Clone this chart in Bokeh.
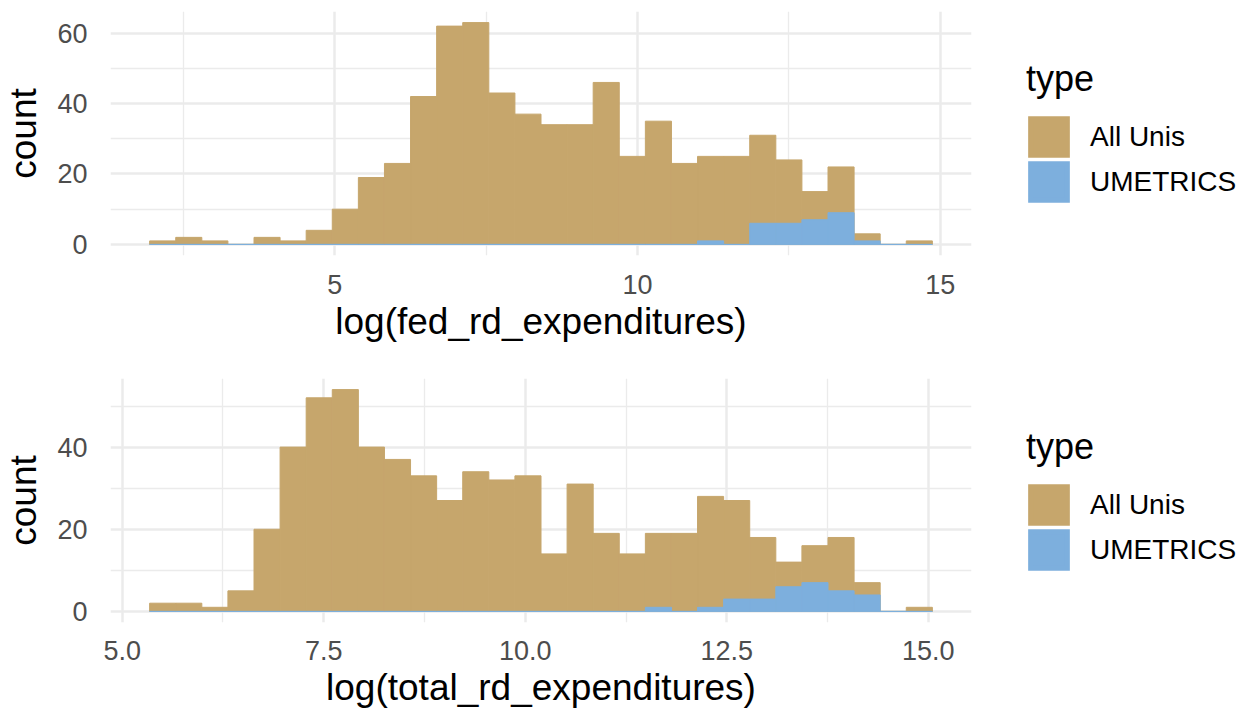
import numpy as np
from bokeh.plotting import figure
from bokeh.models import Range1d, FixedTicker, NumeralTickFormatter, BasicTickFormatter, Legend, LegendItem
from bokeh.layouts import column, row
from bokeh.embed import file_html
from bokeh.resources import INLINE

# ---- data (30 bins per panel) ----
types = ["All Unis", "UMETRICS"]

fed_edges_range = [1.94, 14.87]          # outer bin edges of log(fed_rd_expenditures)
fed_all_unis = [1, 2, 1, 0, 2, 1, 4, 10, 19, 23, 42, 62, 63, 43, 37,
                34, 34, 46, 25, 35, 23, 25, 25, 31, 24, 15, 22, 3, 0, 1]
fed_umetrics = [0, 0, 0, 0, 0, 0, 0, 0, 0, 0, 0, 0, 0, 0, 0,
                0, 0, 0, 0, 0, 0, 1, 0, 6, 6, 7, 9, 1, 0, 0]

total_edges_range = [5.34, 15.05]        # outer bin edges of log(total_rd_expenditures)
total_all_unis = [2, 2, 1, 5, 20, 40, 52, 54, 40, 37, 33, 27, 34, 32, 33,
                  14, 31, 19, 14, 19, 19, 28, 27, 18, 12, 16, 18, 7, 0, 1]
total_umetrics = [0, 0, 0, 0, 0, 0, 0, 0, 0, 0, 0, 0, 0, 0, 0,
                  0, 0, 0, 0, 1, 0, 1, 3, 3, 6, 7, 5, 4, 0, 0]

fed_xticks = [5, 10, 15]
fed_xminor = [2.5, 7.5, 12.5]
fed_yticks = [0, 20, 40, 60]
fed_yminor = [10, 30, 50]

total_xticks = [5.0, 7.5, 10.0, 12.5, 15.0]
total_xminor = [6.25, 8.75, 11.25, 13.75]
total_yticks = [0, 20, 40]
total_yminor = [10, 30, 50]

COLORS = ["#C6A66C", "#7DAFDD"]
FONT = "Liberation Sans"
GRID = "#EBEBEB"


def histogram(fig, edges, all_counts, um_counts, lw=1):
    r_all = fig.quad(left=edges[:-1], right=edges[1:], bottom=0, top=all_counts,
                     fill_color=COLORS[0], line_color=COLORS[0], line_width=lw,
                     line_join="miter")
    r_um = fig.quad(left=edges[:-1], right=edges[1:], bottom=0, top=um_counts,
                    fill_color=COLORS[1], line_color=COLORS[1], line_width=lw,
                    line_join="miter")
    return r_all, r_um


def panel(edges_range, all_counts, um_counts, xlabel, xticks, xminor, yticks, yminor,
          xfmt, height, b_top, b_bottom, x_standoff, legend_y):
    n = len(all_counts)
    edges = np.linspace(edges_range[0], edges_range[1], n + 1)
    span = edges_range[1] - edges_range[0]
    ymax = max(all_counts)
    p = figure(width=1000, height=height, output_backend="svg", toolbar_location=None,
               x_range=Range1d(edges[0] - 0.05 * span, edges[-1] + 0.05 * span),
               y_range=Range1d(-0.05 * ymax, 1.05 * ymax),
               min_border_left=103, min_border_right=29,
               min_border_top=b_top, min_border_bottom=b_bottom)
    p.outline_line_color = None
    p.background_fill_color = "white"
    histogram(p, edges, all_counts, um_counts)

    p.xaxis.ticker = FixedTicker(ticks=xticks, minor_ticks=xminor)
    p.yaxis.ticker = FixedTicker(ticks=yticks, minor_ticks=yminor)
    p.xaxis.formatter = xfmt
    p.yaxis.formatter = BasicTickFormatter()

    for ax in (p.xaxis, p.yaxis):
        ax.axis_line_color = None
        ax.major_tick_line_color = None
        ax.minor_tick_line_color = None
        ax.major_label_text_font = FONT
        ax.major_label_text_font_size = "27px"
        ax.major_label_text_color = "#4D4D4D"
        ax.axis_label_text_font = FONT
        ax.axis_label_text_font_size = "37px"
        ax.axis_label_text_font_style = "normal"
        ax.axis_label_text_color = "black"
    p.xaxis.axis_label = xlabel
    p.yaxis.axis_label = "count"
    p.xaxis.major_label_standoff = x_standoff
    p.xaxis.axis_label_standoff = 4
    p.yaxis.major_label_standoff = 17
    p.yaxis.axis_label_standoff = 10

    for g in (p.xgrid, p.ygrid):
        g.grid_line_color = GRID
        g.grid_line_width = 2.5
        g.minor_grid_line_color = GRID
        g.minor_grid_line_width = 1.3

    # legend lives in its own narrow figure to the right of the panel;
    # its (hidden) renderers carry the same histogram data
    lf = figure(width=250, height=height, output_backend="svg", toolbar_location=None,
                x_axis_location=None, y_axis_location=None,
                min_border_left=0, min_border_right=0, min_border_top=0, min_border_bottom=0)
    lf.outline_line_color = None
    lf.grid.visible = False
    k_all, k_um = histogram(lf, edges, all_counts, um_counts, lw=5.7)
    k_all.visible = False
    k_um.visible = False
    legend = Legend(items=[LegendItem(label=types[0], renderers=[k_all]),
                           LegendItem(label=types[1], renderers=[k_um])],
                    title="type", location=(26, legend_y))
    legend.inactive_fill_alpha = 0
    legend.title_text_font = FONT
    legend.title_text_font_size = "36px"
    legend.title_text_font_style = "normal"
    legend.title_text_color = "black"
    legend.title_standoff = 14
    legend.label_text_font = FONT
    legend.label_text_font_size = "28px"
    legend.label_text_color = "black"
    legend.glyph_width = 45
    legend.glyph_height = 45
    legend.label_height = 45
    legend.spacing = 0
    legend.padding = 0
    legend.margin = 0
    legend.label_standoff = 19
    legend.border_line_color = None
    legend.background_fill_alpha = 0
    lf.add_layout(legend)
    return row(p, lf, spacing=0)


r1 = panel(fed_edges_range, fed_all_unis, fed_umetrics, "log(fed_rd_expenditures)",
           fed_xticks, fed_xminor, fed_yticks, fed_yminor, BasicTickFormatter(),
           355, 11, 100, 13, 51)
r2 = panel(total_edges_range, total_all_unis, total_umetrics, "log(total_rd_expenditures)",
           total_xticks, total_xminor, total_yticks, total_yminor, NumeralTickFormatter(format="0.0"),
           355, 23, 88, 12, 50)

layout = column(r1, r2, spacing=0)
open("out.html", "w").write(file_html(layout, INLINE))
